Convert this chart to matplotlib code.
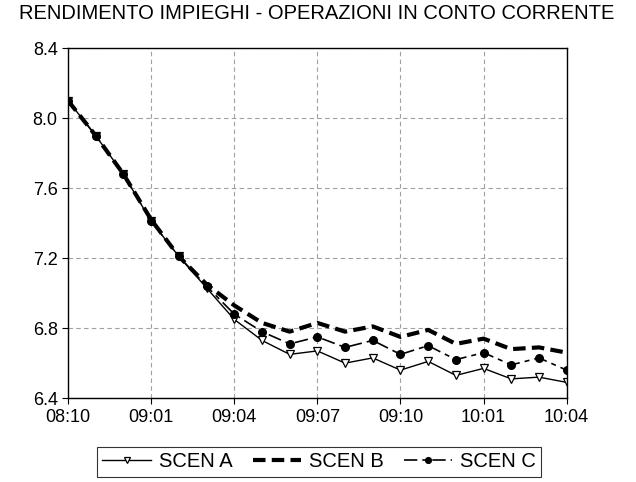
import matplotlib
matplotlib.use("Agg")
import matplotlib.pyplot as plt

plt.rcParams['font.family'] = ['Liberation Sans', 'DejaVu Sans']

# monthly periods 2008:10 .. 2010:04
periods = ["08:10", "08:11", "08:12", "09:01", "09:02", "09:03", "09:04",
           "09:05", "09:06", "09:07", "09:08", "09:09", "09:10", "09:11",
           "09:12", "10:01", "10:02", "10:03", "10:04"]
tick_labels = ["08:10", "09:01", "09:04", "09:07", "09:10", "10:01", "10:04"]

scen_a = [8.10, 7.90, 7.68, 7.41, 7.21, 7.03, 6.85, 6.73, 6.65, 6.67,
          6.60, 6.63, 6.56, 6.61, 6.53, 6.57, 6.51, 6.52, 6.49]
scen_b = [8.10, 7.90, 7.68, 7.42, 7.21, 7.05, 6.93, 6.83, 6.78, 6.83,
          6.78, 6.81, 6.75, 6.79, 6.71, 6.74, 6.68, 6.69, 6.66]
scen_c = [8.10, 7.90, 7.68, 7.41, 7.21, 7.04, 6.88, 6.78, 6.71, 6.75,
          6.69, 6.73, 6.65, 6.70, 6.62, 6.66, 6.59, 6.63, 6.56]

x = list(range(len(periods)))

fig = plt.figure(figsize=(6.36, 4.82), dpi=100)
ax = fig.add_axes([0.107, 0.174, 0.784, 0.726])

ax.plot(x, scen_a, color='black', lw=1.0, marker='v', markersize=5.5,
        markerfacecolor='white', markeredgecolor='black', markeredgewidth=0.9,
        label='SCEN A')
ax.plot(x, scen_b, color='black', lw=3.0, linestyle=(0, (3, 1.5)),
        label='SCEN B')
ax.plot(x, scen_c, color='black', lw=1.2, linestyle=(0, (8, 3, 3, 3)),
        marker='o', markersize=5.5, label='SCEN C')

ax.set_xlim(0, len(periods) - 1)
ax.set_ylim(6.4, 8.4)
ax.set_xticks([periods.index(t) for t in tick_labels])
ax.set_xticklabels(tick_labels)
ax.set_yticks([6.4, 6.8, 7.2, 7.6, 8.0, 8.4])
ax.set_yticklabels(["6.4", "6.8", "7.2", "7.6", "8.0", "8.4"])
ax.tick_params(labelsize=13, direction='out', length=4, width=0.8,
               colors='black')
ax.grid(True, color='#a0a0a0', linestyle=(0, (4, 3)), lw=0.8)
for s in ax.spines.values():
    s.set_linewidth(1.0)
    s.set_color('black')

fig.text(0.498, 0.972, "RENDIMENTO IMPIEGHI - OPERAZIONI IN CONTO CORRENTE",
         ha='center', va='center', fontsize=14.5)

leg = fig.legend(loc='center', bbox_to_anchor=(0.502, 0.0415), ncol=3,
                 frameon=True, fancybox=False, edgecolor='black',
                 fontsize=14.5, handlelength=2.4, columnspacing=1.0,
                 handletextpad=0.4, borderpad=0.25, markerscale=0.75)
leg.get_frame().set_linewidth(0.8)

fig.savefig("out.png", dpi=100)
